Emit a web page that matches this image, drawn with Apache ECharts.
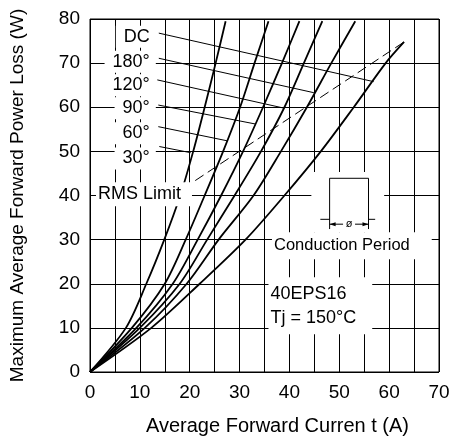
<!DOCTYPE html>
<html>
<head>
<meta charset="utf-8">
<script src="https://cdn.jsdelivr.net/npm/echarts@6/dist/echarts.min.js"></script>
<style>
html,body{margin:0;padding:0;background:#fff;}
#c{width:456px;height:441px;}
</style>
</head>
<body>
<div id="c"></div>
<script>
// ---- data ----
const xTickLabels = ['0','10','20','30','40','50','60','70'];
const yTickLabels = ['0','10','20','30','40','50','60','70','80'];

// [average forward current (A), power loss (W)]
const curve30  = [[0,0],[7.2,10],[11.3,20],[14.9,30],[18.1,40],[20.7,50],[23.0,60],[25.2,70],[27.2,79.5]];
const curve60  = [[0,0],[8.4,10],[15.0,20],[19.2,30],[23.0,40],[26.7,50],[30.1,60],[33.0,70],[35.8,79.5]];
const curve90  = [[0,0],[9.3,10],[16.6,20],[21.6,30],[26.3,40],[30.7,50],[34.7,60],[38.5,70],[42.0,79.5]];
const curve120 = [[0,0],[10.0,10],[18.0,20],[23.5,30],[29.0,40],[34.3,50],[39.0,60],[42.9,70],[46.6,79.5]];
const curve180 = [[0,0],[11.0,10],[19.4,20],[25.8,30],[32.8,40],[38.3,50],[43.5,60],[48.4,70],[53.2,79.5]];
const curveDC  = [[0,0],[12.3,10],[22.0,20],[31.2,30],[39.0,40],[46.3,50],[52.9,60],[59.3,70],[63.0,74.8]];
const rmsLimit = [[18.6,41.5],[63.0,74.8]];

const curveNames = ['DC','180°','120°','90°','60°','30°'];
// leader lines from each label to its curve
const leaderDC  = [[13.8,76.8],[56.9,65.8]];
const leader180 = [[13.8,71.1],[44.9,63.3]];
const leader120 = [[13.5,66.2],[38.9,59.8]];
const leader90  = [[13.7,60.5],[33.2,56.2]];
const leader60  = [[13.7,55.6],[27.5,52.4]];
const leader30  = [[13.9,51.1],[20.2,49.7]];

const xTitle = 'Average Forward Curren t (A)';
const yTitle = 'Maximum Average Forward Power Loss (W)';
const rmsText = 'RMS Limit';
const periodText = 'Conduction Period';
const deviceText = '40EPS16\nTj = 150°C';

// ---- layout ----
const FONT = '"Liberation Sans", Arial, sans-serif';
const labelAnchorX = 13.2;
const labelAnchorY = [76.0, 70.3, 65.0, 59.8, 54.1, 48.4];

const curveStyle = {color:'#000', width:1.8};
function curveSeries(d){
  return {type:'line', data:d, smooth:0.3, showSymbol:false, symbol:'none',
          lineStyle:curveStyle, z:3, silent:true, animation:false};
}
function leaderSeries(d){
  return {type:'line', data:d, showSymbol:false, symbol:'none',
          lineStyle:{color:'#000', width:1}, z:3, silent:true, animation:false};
}

const chart = echarts.init(document.getElementById('c'), null, {renderer:'canvas'});
const option = {
  animation:false,
  backgroundColor:'#fff',
  grid:{left:89, right:17, top:19, bottom:69, show:true, borderColor:'#000', borderWidth:1, backgroundColor:'transparent'},
  xAxis:{
    type:'value', min:0, max:70, interval:5,
    name:xTitle, nameLocation:'middle', nameGap:44,
    nameTextStyle:{fontFamily:FONT, fontSize:20, color:'#000', padding:[0,0,0,26]},
    axisLine:{show:false}, axisTick:{show:false},
    axisLabel:{fontFamily:FONT, fontSize:19, color:'#000', margin:11,
      formatter:function(v){ const s=String(v); return xTickLabels.indexOf(s)>=0 ? s : ''; }},
    splitLine:{show:true, lineStyle:{color:'#000', width:1}}
  },
  yAxis:{
    type:'value', min:0, max:80, interval:10,
    name:yTitle, nameLocation:'middle', nameGap:63, nameRotate:90,
    nameTextStyle:{fontFamily:FONT, fontSize:19, color:'#000'},
    axisLine:{show:false}, axisTick:{show:false},
    axisLabel:{fontFamily:FONT, fontSize:19, color:'#000', margin:10,
      formatter:function(v){ const s=String(v); return yTickLabels.indexOf(s)>=0 ? s : ''; }},
    splitLine:{show:true, lineStyle:{color:'#000', width:1}}
  },
  series:[
    curveSeries(curve30), curveSeries(curve60), curveSeries(curve90),
    curveSeries(curve120), curveSeries(curve180), curveSeries(curveDC),
    {type:'line', data:rmsLimit, showSymbol:false, symbol:'none',
     lineStyle:{color:'#000', width:1, type:[10,5]}, z:3, silent:true, animation:false},
    leaderSeries(leaderDC), leaderSeries(leader180), leaderSeries(leader120),
    leaderSeries(leader90), leaderSeries(leader60), leaderSeries(leader30)
  ]
};
chart.setOption(option);

const P = (x,y) => chart.convertToPixel({gridIndex:0},[x,y]);
const els = [];
// curve labels
curveNames.forEach(function(t,i){
  const q = P(labelAnchorX, labelAnchorY[i]);
  els.push({type:'text', x:q[0], y:q[1], z:100,
    style:{text:t, font:'18px '+FONT, fill:'#000', align:'right', verticalAlign:'middle',
           backgroundColor:'#fff', padding:[2,6,2,8]}});
});
// RMS limit label
(function(){
  const q = P(1.2, 40.3);
  els.push({type:'text', x:q[0], y:q[1], z:100,
    style:{text:rmsText, font:'18px '+FONT, fill:'#000', align:'left', verticalAlign:'middle',
           backgroundColor:'#fff', padding:[3,11,3,2]}});
})();
// white area behind conduction diagram
(function(){
  const a = P(44.4, 45.3), b = P(59.0, 31.6);
  els.push({type:'rect', z:90, shape:{x:a[0], y:a[1], width:b[0]-a[0], height:b[1]-a[1]}, style:{fill:'#fff'}});
  const L = P(48.06,0)[0], R = P(55.86,0)[0];
  const top = P(0,43.9)[1], base = P(0,34.6)[1], ext = P(0,32.4)[1], arr = P(0,33.5)[1];
  const s1 = P(46.2,0)[0], s2 = P(57.2,0)[0];
  const ls = {stroke:'#000', lineWidth:1, fill:null};
  els.push({type:'polyline', z:101, shape:{points:[[s1,base],[L,base]]}, style:ls});
  els.push({type:'polyline', z:101, shape:{points:[[R,base],[s2,base]]}, style:ls});
  els.push({type:'polyline', z:101, shape:{points:[[L,ext],[L,top],[R,top],[R,ext]]}, style:ls});
  const mid = (L+R)/2;
  els.push({type:'polyline', z:101, shape:{points:[[L,arr],[mid-6,arr]]}, style:ls});
  els.push({type:'polyline', z:101, shape:{points:[[mid+6,arr],[R,arr]]}, style:ls});
  els.push({type:'polygon', z:101, shape:{points:[[L,arr],[L+6,arr-2],[L+6,arr+2]]}, style:{fill:'#000'}});
  els.push({type:'polygon', z:101, shape:{points:[[R,arr],[R-6,arr-2],[R-6,arr+2]]}, style:{fill:'#000'}});
  els.push({type:'text', x:mid, y:arr, z:101,
    style:{text:'ø', font:'11px '+FONT, fill:'#000', align:'center', verticalAlign:'middle'}});
})();
// conduction period label
(function(){
  const q = P(36.5, 28.6);
  els.push({type:'text', x:q[0], y:q[1], z:100,
    style:{text:periodText, font:'16.5px '+FONT, fill:'#000', align:'left', verticalAlign:'middle',
           backgroundColor:'#fff', padding:[5,22,5,2]}});
})();
// device label
(function(){
  const q = P(35.8, 15.0);
  els.push({type:'text', x:q[0], y:q[1], z:100,
    style:{text:deviceText, font:'18px '+FONT, fill:'#000', align:'left', verticalAlign:'middle',
           lineHeight:24, backgroundColor:'#fff', padding:[4,16,5,2]}});
})();
chart.setOption({graphic:{elements:els}});
</script>
</body>
</html>
